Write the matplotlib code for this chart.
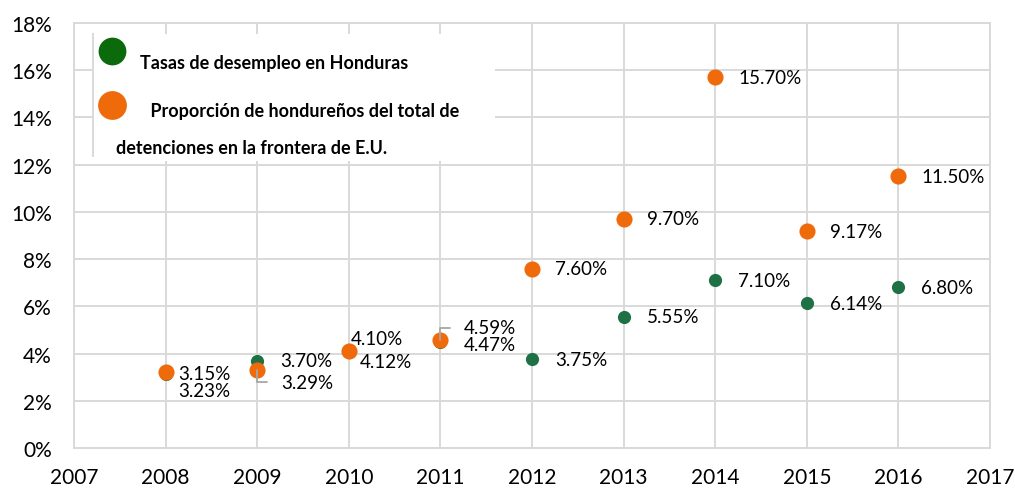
import matplotlib.pyplot as plt
from matplotlib.patches import Rectangle
from matplotlib.lines import Line2D

# --- data ---
years = [2008, 2009, 2010, 2011, 2012, 2013, 2014, 2015, 2016]
desempleo = [3.15, 3.70, 4.12, 4.47, 3.75, 5.55, 7.10, 6.14, 6.80]
detenciones = [3.23, 3.29, 4.10, 4.59, 7.60, 9.70, 15.70, 9.17, 11.50]
x_ticks = list(range(2007, 2018))
y_ticks = list(range(0, 19, 2))

GREEN = "#1E7145"
ORANGE = "#EE6A0B"
LEG_GREEN = "#0B6A0B"
GRID = "#D9D9D9"

plt.rcParams["font.family"] = ["Lato", "DejaVu Sans"]

fig = plt.figure(figsize=(10.15, 4.89), dpi=100)
ax = fig.add_axes([74 / 1015, 40 / 489, 916 / 1015, 425 / 489])

ax.scatter(years, desempleo, s=90, color=GREEN, zorder=3, linewidths=0)
ax.scatter(years, detenciones, s=135, color=ORANGE, zorder=4, linewidths=0)

ax.set_xlim(2007, 2017)
ax.set_ylim(0, 18)
ax.set_xticks(x_ticks)
ax.set_yticks(y_ticks)
ax.set_yticklabels([f"{v}%" for v in y_ticks])
ax.tick_params(length=0, labelsize=15, colors="black")
ax.tick_params(axis="y", pad=16)
ax.tick_params(axis="x", pad=14)
ax.grid(True, color=GRID, linewidth=1.4)
ax.set_axisbelow(True)
for sp in ax.spines.values():
    sp.set_color(GRID)
    sp.set_linewidth(1.4)

# data labels: default offset right of the point, a few moved by hand (pixels)
lab_kw = dict(textcoords="offset pixels", va="center", ha="left",
              fontsize=13.5, zorder=5)
green_off = {2008: (13, 0), 2010: (11, -11), 2011: (23, -2)}
orange_off = {2008: (13, -19), 2009: (24, -12), 2010: (2, 13), 2011: (23, 12)}
leader = {2009: "angle,angleA=0,angleB=90", 2011: "angle,angleA=0,angleB=-90"}

for yr, v in zip(years, desempleo):
    dx, dy = green_off.get(yr, (23, 0))
    ax.annotate(f"{v:.2f}%", (yr, v), xytext=(dx, dy), **lab_kw)

for yr, v in zip(years, detenciones):
    dx, dy = orange_off.get(yr, (23, 0))
    arrow = None
    if yr in leader:
        arrow = dict(arrowstyle="-", color="#A6A6A6", lw=1.3,
                     connectionstyle=leader[yr], relpos=(0, 0.5),
                     shrinkA=8, shrinkB=0)
    ax.annotate(f"{v:.2f}%", (yr, v), xytext=(dx, dy), arrowprops=arrow,
                **lab_kw)

# hand-built legend box
ax.add_patch(Rectangle((0.0207, 0.675), 0.439, 0.299, transform=ax.transAxes,
                       facecolor="white", edgecolor="none", zorder=6))
ax.add_line(Line2D([0.0207, 0.0207], [0.688, 0.974], transform=ax.transAxes,
                   color=GRID, lw=1.4, zorder=7))
ax.scatter([0.0415], [0.934], s=400, color=LEG_GREEN, transform=ax.transAxes,
           zorder=7, linewidths=0, clip_on=False)
ax.scatter([0.0415], [0.807], s=430, color=ORANGE, transform=ax.transAxes,
           zorder=7, linewidths=0, clip_on=False)
leg_kw = dict(transform=ax.transAxes, fontsize=13, fontweight="bold",
              va="center", ha="left", zorder=8)
ax.text(0.072, 0.908, "Tasas de desempleo en Honduras", **leg_kw)
ax.text(0.079, 0.795, " Proporción de hondureños del total de", **leg_kw)
ax.text(0.0459, 0.708, "detenciones en la frontera de E.U.", **leg_kw)

fig.savefig("out.png", dpi=100)
